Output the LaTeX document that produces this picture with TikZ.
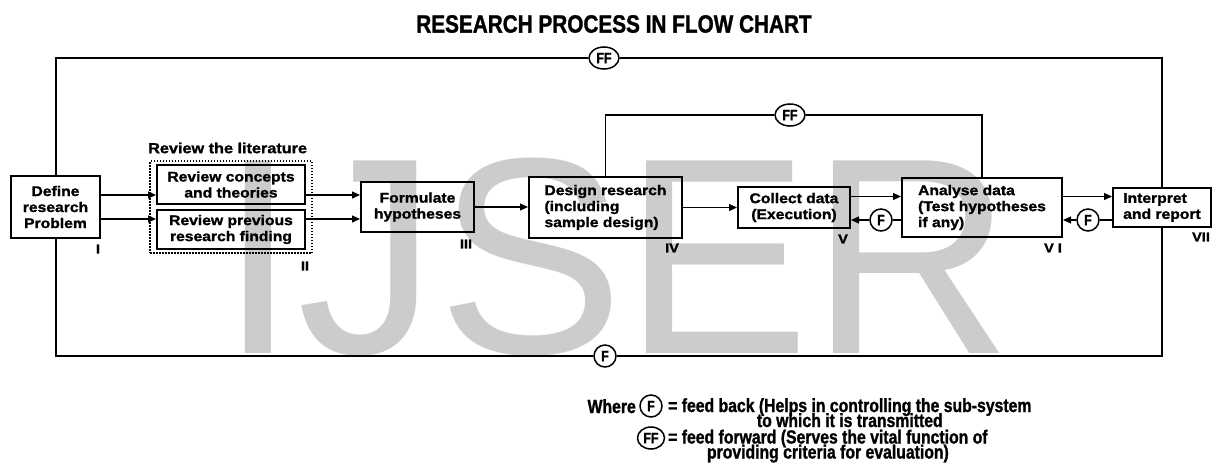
\documentclass[tikz,border=0pt]{standalone}
\usepackage{fontspec}
\setmainfont{Liberation Sans}
\newfontfamily\widebold{Liberation Sans}[FakeStretch=1.12,FakeBold=1.4]
\newfontfamily\condbold{Liberation Sans}[FakeStretch=0.83,FakeBold=1.2]
\newfontfamily\markfamily{Liberation Sans}
\usetikzlibrary{arrows.meta,calc,fit,shapes.geometric,positioning}
\newcommand\boxfnt{\widebold\bfseries\fontsize{14}{16}\selectfont}
\newcommand\romfnt{\widebold\bfseries\fontsize{13}{15}\selectfont}
\newcommand\titlefnt{\condbold\bfseries\fontsize{25}{30}\selectfont}
\newcommand\legfnt{\condbold\bfseries\fontsize{19}{22}\selectfont}
\newcommand\circfnt{\condbold\bfseries\fontsize{15}{18}\selectfont}
\newcommand\markfnt{\markfamily\fontsize{280}{280}\selectfont}

\begin{document}
\begin{tikzpicture}[x=1pt,y=-1pt,
  stage/.style={draw, line width=2pt, inner sep=0pt, font=\boxfnt, align=center},
  conn/.style={line width=1.2pt},
  arr/.style={conn, -{Triangle[length=8pt,width=7pt]}},
  loopline/.style={line width=2pt},
  fb/.style={circle, draw, line width=1.5pt, minimum size=22pt, inner sep=0pt, font=\circfnt},
  ff/.style={ellipse, draw, line width=1.5pt, minimum width=30pt, minimum height=22pt, inner sep=0pt, font=\circfnt},
  roman/.style={font=\romfnt, inner sep=0pt},
  legend/.style={font=\legfnt, inner sep=0pt}]
\useasboundingbox (0,0) rectangle (1213,463);
\fill[white] (0,0) rectangle (1213,463);
\node[anchor=base west, inner sep=0pt, text=black!20, font=\markfnt] (mark) at (219,353) {IJSER};

\node[font=\titlefnt] (title) at (614,24) {RESEARCH PROCESS IN FLOW CHART};

% stages
\node[stage, minimum width=89pt, minimum height=62pt] (define) at (55.5,207) {Define\\research\\Problem};
\node[stage, minimum width=148pt, minimum height=39pt] (revA) at (231,184.5) {Review concepts\\and theories};
\node[stage, minimum width=148pt, minimum height=39pt] (revB) at (231,229.5) {Review previous\\research finding};
\node[draw, line width=1.8pt, dash pattern=on 1.5pt off 1.5pt, fit=(revA)(revB), inner xsep=6pt, inner ysep=3pt] (lit) {};
\node[font=\boxfnt\fontsize{14.5}{16}\selectfont, anchor=west, inner sep=0pt] (littitle) at (148,148) {Review the literature};
\node[stage, minimum width=113pt, minimum height=50pt] (formulate) at (417.5,207) {Formulate\\hypotheses};
\node[stage, align=left, minimum width=153pt, minimum height=61pt] (design) at (605.5,207.5) {Design research\\(including\\sample design)};
\node[stage, minimum width=112pt, minimum height=41pt] (collect) at (794,207.5) {Collect data\\(Execution)};
\node[stage, align=left, minimum width=160pt, minimum height=59pt] (analyse) at (982,207.5) {Analyse data\\(Test hypotheses\\if any)};
\node[stage, align=left, minimum width=98pt, minimum height=39pt] (interpret) at (1162,207.5) {Interpret\\and report};

\node[roman] (nI) at (98,249) {I};
\node[roman] (nII) at (305,266) {II};
\node[roman] (nIII) at (466,244) {III};
\node[roman] (nIV) at (672,248) {IV};
\node[roman] (nV) at (843,239) {V};
\node[roman] (nVI) at (1053,248) {V I};
\node[roman] (nVII) at (1201,237) {VII};

% forward arrows
\coordinate (upper) at (0,195);
\coordinate (lower) at (0,219);
\coordinate (fwd) at (0,196.5);
\draw[arr] (define.east |- upper) -- (revA.west |- upper);
\draw[arr] (define.east |- lower) -- (revB.west |- lower);
\draw[arr] (revA.east |- upper) -- (formulate.west |- upper);
\draw[arr] (revB.east |- lower) -- (formulate.west |- lower);
\draw[arr] (formulate.east) -- (design.west |- formulate.east);
\draw[arr] (design.east |- collect.west) -- (collect.west);
\draw[arr] (collect.east |- fwd) -- (analyse.west |- fwd);
\draw[arr] (analyse.east |- fwd) -- (interpret.west |- fwd);

% feed back
\node[fb] (fbV) at (881,220) {F};
\node[fb] (fbVI) at (1088,220) {F};
\draw[conn] (analyse.west |- fbV) -- (fbV);
\draw[arr] (fbV) -- (collect.east |- fbV);
\draw[conn] (interpret.west |- fbVI) -- (fbVI);
\draw[arr] (fbVI) -- (analyse.east |- fbVI);

% loops
\node[ff] (ffTop) at (604,58) {FF};
\node[fb] (fBot) at (605,356) {F};
\node[ff] (ffMid) at (790,115) {FF};
\draw[loopline] (define.north) |- (ffTop);
\draw[loopline] (ffTop) -| (interpret.north);
\draw[loopline] (define.south) |- (fBot);
\draw[loopline] (fBot) -| (interpret.south);
\draw[conn] (design.north) |- (ffMid);
\draw[conn] (ffMid) -| (analyse.north);

% key
\node[legend, anchor=base east] (where) at (636,413) {Where};
\node[fb] (keyF) at (651,406) {F};
\node[legend, anchor=base west] (keyF1) at (668,412) {= feed back (Helps in controlling the sub-system};
\node[legend, anchor=base] (keyF2) at ($(keyF1.base)+(0,15)$) {to which it is transmitted};
\node[ff, minimum width=27pt] (keyFF) at (651,438) {FF};
\node[legend, anchor=base west] (keyFF1) at (668,443.5) {= feed forward (Serves the vital function of};
\node[legend, anchor=base] (keyFF2) at ($(keyFF1.base)+(0,15)$) {providing criteria for evaluation)};
\end{tikzpicture}
\end{document}
